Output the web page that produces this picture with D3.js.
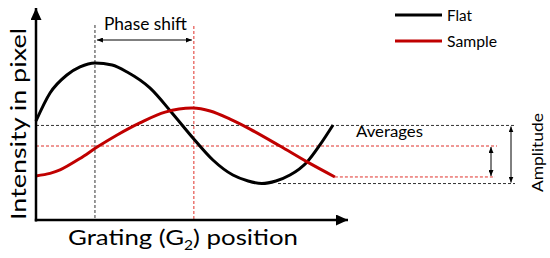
<!DOCTYPE html>
<html><head><meta charset="utf-8">
<script src="https://cdn.jsdelivr.net/npm/d3@7"></script>
<style>html,body{margin:0;padding:0;background:#fff;}svg{display:block;}</style>
</head><body>
<svg id="c" width="550" height="258"></svg>
<script>
// ---- data (position units 0-100, intensity units 0-100) ----
const flatPos   = [0, 4.5, 9.9, 14.1, 18.9, 24.4, 29.2, 36.5, 43.6, 50.3, 56.7, 63.1, 68.0, 72.4, 76.9, 81.4, 86.9, 91.0, 95.2];
const flatInt   = [46.7, 59.9, 68.4, 72.2, 74.1, 73.1, 69.8, 62.3, 50.5, 38.7, 28.3, 21.2, 18.4, 17.2, 18.4, 21.2, 27.4, 35.4, 44.8];
const samplePos = [0, 4.5, 7.7, 14.1, 19.6, 26.0, 33.3, 41.4, 50.3, 55.8, 62.2, 68.6, 78.2, 86.9, 95.8];
const sampleInt = [20.8, 22.0, 23.6, 29.0, 34.4, 40.1, 45.8, 50.9, 52.8, 51.4, 47.6, 42.9, 34.9, 27.4, 20.3];
const flatMean = 44.6, sampleMean = 34.9, flatMin = 17.2, sampleMin = 20.3;
const flatPeakPos = 18.9, samplePeakPos = 50.6;
const seriesNames = ["Flat", "Sample"];
const seriesColors = ["#000000", "#c00000"];
const labels = {x: "Grating (G", xSub: "2", xEnd: ") position", y: "Intensity in pixel",
  phase: "Phase shift", avg: "Averages", amp: "Amplitude"};

const svg = d3.select("#c");
const font = "Lato, 'Open Sans', sans-serif";
const x = d3.scaleLinear().domain([0, 100]).range([36, 348]);
const y = d3.scaleLinear().domain([0, 100]).range([220, 8]);

const defs = svg.append("defs");
function marker(id, len, wid, orient) {
  defs.append("marker").attr("id", id).attr("viewBox", `0 0 ${len} ${wid}`)
    .attr("refX", len).attr("refY", wid / 2).attr("markerWidth", len).attr("markerHeight", wid)
    .attr("markerUnits", "userSpaceOnUse").attr("orient", orient)
    .append("path").attr("d", `M0,0L${len},${wid / 2}L0,${wid}Z`).attr("fill", "#000");
}
marker("axh", 12, 11, "auto");
marker("sa", 6, 5, "auto-start-reverse");

// dashed guides
const dash = "3,2";
function hline(x1, x2, v, col) {
  svg.append("line").attr("x1", x1).attr("x2", x2).attr("y1", y(v)).attr("y2", y(v))
    .attr("stroke", col).attr("stroke-width", 1).attr("stroke-dasharray", dash);
}
function vline(p, top, col) {
  svg.append("line").attr("x1", x(p)).attr("x2", x(p)).attr("y1", top).attr("y2", y(0))
    .attr("stroke", col).attr("stroke-width", 1).attr("stroke-dasharray", dash);
}
hline(x(0), 515, flatMean, "#333");
hline(x(0), 497, sampleMean, "#e0302a");
hline(x(95.8), 495, sampleMin, "#e0302a");
hline(278, 515, flatMin, "#333");
vline(flatPeakPos, 25, "#333");
vline(samplePeakPos, 26, "#e0302a");

// curves
const curves = [d3.curveMonotoneX, d3.curveCatmullRom.alpha(0.5)];
const series = [d3.zip(flatPos, flatInt), d3.zip(samplePos, sampleInt)];
series.forEach((s, i) => {
  const line = d3.line().x(d => x(d[0])).y(d => y(d[1])).curve(curves[i]);
  svg.append("path").datum(s).attr("d", line).attr("fill", "none")
    .attr("stroke", seriesColors[i]).attr("stroke-width", 3);
});

// axes
svg.append("line").attr("x1", x(0)).attr("x2", x(0)).attr("y1", y(0) + 1.5).attr("y2", y(100))
  .attr("stroke", "#000").attr("stroke-width", 2.5).attr("marker-end", "url(#axh)");
svg.append("line").attr("x1", x(0) - 1.2).attr("x2", x(100)).attr("y1", y(0)).attr("y2", y(0))
  .attr("stroke", "#000").attr("stroke-width", 2.5).attr("marker-end", "url(#axh)");

// double arrows
function darrow(x1, y1, x2, y2) {
  svg.append("line").attr("x1", x1).attr("y1", y1).attr("x2", x2).attr("y2", y2)
    .attr("stroke", "#000").attr("stroke-width", 1)
    .attr("marker-start", "url(#sa)").attr("marker-end", "url(#sa)");
}
darrow(x(flatPeakPos) + 2, 40, x(samplePeakPos) - 2, 40);
darrow(491, y(sampleMean) + 1, 491, y(sampleMin) - 1);
darrow(511, y(flatMean) + 1, 511, y(flatMin) - 1);

// text helper: given size, stretched to target width
function txt(str, xx, yy, size, target, rot) {
  const t = svg.append("text").attr("x", xx).attr("y", yy).attr("font-family", font)
    .attr("font-size", size).attr("fill", "#000").text(str)
    .attr("textLength", target).attr("lengthAdjust", "spacingAndGlyphs");
  if (rot) t.attr("transform", `rotate(-90,${xx},${yy})`);
  return t;
}
txt(labels.phase, 104, 30, 17, 83);
txt(labels.avg, 356, 137, 15.5, 67);
txt(labels.amp, 543, 192, 15.5, 79, true);
txt(labels.y, 26, 220, 22, 192, true);

// x label with subscript
const xl = svg.append("text").attr("x", 68).attr("y", 245).attr("font-family", font)
  .attr("font-size", 21.5).attr("fill", "#000")
  .attr("textLength", 230).attr("lengthAdjust", "spacingAndGlyphs");
xl.append("tspan").text(labels.x);
xl.append("tspan").attr("dy", 5).attr("font-size", 13).text(labels.xSub);
xl.append("tspan").attr("dy", -5).text(labels.xEnd);

// legend
seriesNames.forEach((n, i) => {
  const ly = 15 + i * 26;
  svg.append("line").attr("x1", 395).attr("x2", 442).attr("y1", ly).attr("y2", ly)
    .attr("stroke", seriesColors[i]).attr("stroke-width", 3);
  txt(n, 447, ly + 6, 15.5, i === 0 ? 25 : 50);
});
</script>
</body></html>
